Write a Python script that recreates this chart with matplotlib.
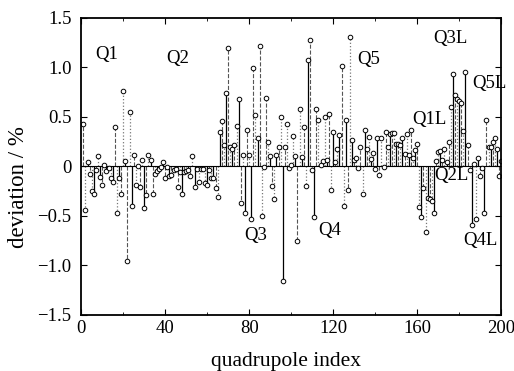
import numpy as np
import matplotlib
matplotlib.use('Agg')
import matplotlib.pyplot as plt

plt.rcParams['font.family'] = ['Liberation Serif', 'DejaVu Serif']

# quadrupole index 1..200, deviation in %
deviation = [
    0.43, -0.44, 0.04, -0.08, -0.25, -0.28, -0.04, 0.10, -0.11, -0.19,
    0.01, -0.05, -0.02, -0.12, -0.16, 0.40, -0.47, -0.12, -0.28, 0.76,
    0.05, -0.96, 0.55, -0.40, 0.11, -0.19, 0.00, -0.21, 0.06, -0.42,
    -0.29, 0.11, 0.06, -0.28, -0.08, -0.05, -0.03, -0.01, 0.04, -0.12,
    -0.01, -0.10, -0.09, -0.04, -0.03, -0.21, -0.06, -0.28, -0.06, -0.05,
    -0.04, -0.10, 0.10, -0.21, -0.03, -0.16, -0.03, -0.03, -0.17, -0.19,
    -0.04, -0.12, -0.12, -0.22, -0.31, 0.35, 0.46, 0.22, 0.74, 1.20,
    0.20, 0.18, 0.22, 0.41, 0.68, -0.37, 0.11, -0.47, 0.37, 0.12,
    -0.53, 0.99, 0.52, 0.29, 1.22, -0.50, -0.01, 0.69, 0.25, 0.10,
    -0.20, -0.33, 0.12, 0.20, 0.50, -1.16, 0.20, 0.43, -0.02, 0.01,
    0.31, 0.10, -0.75, 0.58, 0.09, 0.40, -0.20, 1.07, 1.28, -0.04,
    -0.51, 0.58, 0.47, 0.01, 0.05, 0.50, 0.06, 0.53, -0.24, 0.35,
    0.04, 0.18, 0.32, 1.01, -0.40, 0.47, -0.24, 1.31, 0.27, 0.06,
    0.08, -0.02, 0.20, -0.28, 0.37, 0.18, 0.30, 0.07, 0.14, -0.03,
    0.29, -0.09, 0.29, -0.01, 0.35, 0.20, 0.33, 0.34, 0.34, 0.23,
    0.23, 0.22, 0.29, 0.13, 0.33, 0.12, 0.37, 0.08, 0.17, 0.23,
    -0.41, -0.51, -0.22, -0.66, -0.32, -0.33, -0.35, -0.47, 0.05, 0.15,
    0.16, 0.06, 0.18, 0.04, 0.25, 0.60, 0.93, 0.72, 0.68, 0.66,
    0.64, 0.36, 0.95, 0.22, -0.04, -0.59, 0.02, -0.53, 0.08, -0.10,
    -0.02, -0.47, 0.47, 0.20, 0.20, 0.25, 0.29, 0.18, -0.10, 0.05,
]
index = np.arange(1, len(deviation) + 1)

labels = ['Q1', 'Q2', 'Q3', 'Q4', 'Q5', 'Q1L', 'Q2L', 'Q3L', 'Q4L', 'Q5L']
label_x = [12, 46, 83, 118.5, 137, 166, 176.5, 176, 190, 194.5]
label_y = [1.13, 1.09, -0.70, -0.65, 1.08, 0.47, -0.09, 1.29, -0.75, 0.84]

fig = plt.figure(figsize=(5.14, 3.71), dpi=100)
ax = fig.add_axes([0.158, 0.151, 0.817, 0.801])

dev = np.array(deviation)
styles = [('-', 'black', 0.9), ('--', '#555555', 0.8), (':', '#777777', 0.9)]
for k, (ls, col, lw) in enumerate(styles):
    sel = (index % 3) == k
    ax.vlines(index[sel], 0, dev[sel], colors=col, linestyles=ls, linewidth=lw)
ax.axhline(0, color='black', linewidth=0.8)
ax.plot(index, dev, 'o', ms=3.3, mfc='white', mec='black', mew=0.7, ls='none')

for t, x, y in zip(labels, label_x, label_y):
    ax.text(x, y, t, fontsize=13.5, ha='center', va='center')

ax.set_xlim(0, 200)
ax.set_ylim(-1.5, 1.5)
ax.set_xticks(np.arange(0, 201, 40))
ax.set_xticks(np.arange(0, 201, 20), minor=True)
ax.set_yticks([-1.5, -1.0, -0.5, 0, 0.5, 1.0, 1.5])
ax.set_yticklabels(['\u22121.5', '\u22121.0', '\u22120.5', '0', '0.5', '1.0', '1.5'])
ax.tick_params(direction='in', top=True, right=True, which='both', labelsize=13.5, length=4)
ax.tick_params(axis='y', pad=7)
ax.tick_params(which='minor', length=2.5)
for s in ax.spines.values():
    s.set_linewidth(1.3)
ax.set_xlabel('quadrupole index', fontsize=15.5)
ax.set_ylabel('deviation / %', fontsize=16.5)
ax.xaxis.set_label_coords(0.488, -0.125)
ax.yaxis.set_label_coords(-0.125, 0.43)

fig.savefig('out.png', dpi=100)
